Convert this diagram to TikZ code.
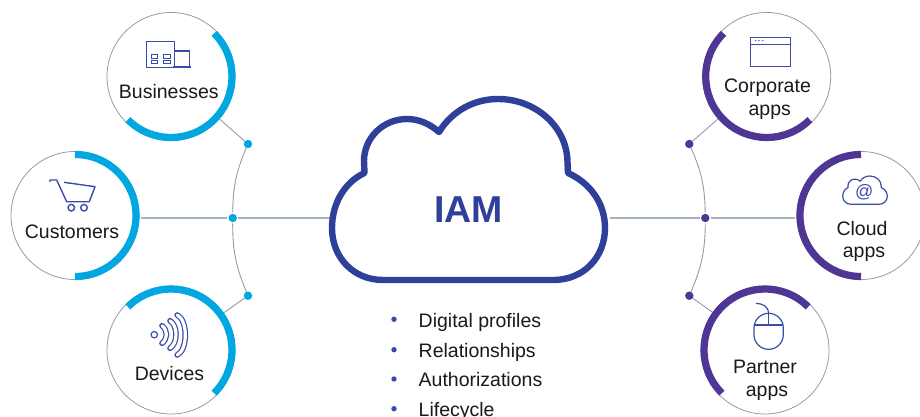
\documentclass[tikz,border=0pt]{standalone}
\usepackage{fontspec}
\setmainfont{Liberation Sans}
\definecolor{cy}{HTML}{00A7E1}
\definecolor{pu}{HTML}{4F3594}
\definecolor{cl}{HTML}{2E4099}
\definecolor{ic}{HTML}{3A4CA8}
\definecolor{gy}{HTML}{8C9FAE}
\definecolor{gl}{HTML}{A3B3BF}
\definecolor{tx}{HTML}{1A1A1A}
\newcommand{\cloudshape}{(383,280) -- (553,280) .. controls (585,280) and (605,256) .. (605,228) .. controls (605,203) and (590,183) .. (568,173) -- (567.5,162) .. controls (567,127) and (536,99) .. (498,99) .. controls (474,99) and (452,111) .. (439,132) .. controls (430,124) and (419,119) .. (407,119) .. controls (383,119) and (364,138) .. (364,161) -- (364.5,173) .. controls (345,182) and (332,203) .. (332,228) .. controls (332,258) and (354,280) .. (383,280) -- cycle}
\tikzset{
  ring/.style={circle,draw=gy,line width=.8pt,minimum size=128pt,inner sep=0pt,outer sep=.4pt},
  dotc/.style={circle,fill=#1,minimum size=8.4pt,inner sep=0pt,outer sep=0pt},
  dotm/.style={dotc=#1,outer sep=1.2pt},
  wire/.style={draw=gy,line width=.9pt},
  hwire/.style={draw=gl,line width=1.2pt},
  band/.style={line width=7.2pt,draw=#1},
  lab/.style={anchor=base,inner sep=0pt,text=tx,font=\fontsize{19.5}{24}\selectfont},
  icon/.style={draw=ic,line width=1.2pt},
  bul/.style={circle,fill=ic,minimum size=5.4pt,inner sep=0pt},
}
\begin{document}
\begin{tikzpicture}[x=1pt,y=-1pt]
\useasboundingbox (0,0) rectangle (920,417);
\clip (0,0) rectangle (920,417);
\fill[white] (0,0) rectangle (920,417);
% rings
\node[ring] (biz) at (171,76.5) {};
\node[ring] (cust) at (75,215.5) {};
\node[ring] (dev) at (171,350) {};
\node[ring] (corp) at (766.7,76.5) {};
\node[ring] (cloudapp) at (861,215.5) {};
\node[ring] (part) at (765,350) {};
% dots
\node[dotc=cy] (d1) at (248,144) {};
\node[dotm=cy] (d2) at (232.7,218) {};
\node[dotc=cy] (d3) at (248,295.7) {};
\node[dotc=pu] (e1) at (689.3,144) {};
\node[dotm=pu] (e2) at (705.3,218) {};
\node[dotc=pu] (e3) at (689.3,295.7) {};
\coordinate (cloudL) at (330,218);
\coordinate (cloudR) at (610,218);
\coordinate (custE) at (141,218);
\coordinate (cappW) at (795,218);
% connectors
\draw[wire] (biz) -- (d1);
\draw[wire] (dev) -- (d3);
\draw[wire] (corp) -- (e1);
\draw[wire] (part) -- (e3);
\draw[wire] (d1) to[bend right=11.4] (d2);
\draw[wire] (d2) to[bend right=11.4] (d3);
\draw[wire] (e1) to[bend left=11.4] (e2);
\draw[wire] (e2) to[bend left=11.4] (e3);
\draw[hwire] (custE) -- (d2);
\draw[hwire] (d2) -- (cloudL);
\draw[hwire] (cloudR) -- (e2);
\draw[hwire] (e2) -- (cappW);
% bands
\draw[band=cy] ([shift={(-45:61)}]biz.center) arc[start angle=-45,end angle=135,radius=61];
\draw[band=cy] ([shift={(-90:61)}]cust.center) arc[start angle=-90,end angle=90,radius=61];
\draw[band=cy] ([shift={(-135:61)}]dev.center) arc[start angle=-135,end angle=45,radius=61];
\draw[band=pu] ([shift={(-135:61)}]corp.center) arc[start angle=-135,end angle=-315,radius=61];
\draw[band=pu] ([shift={(-90:61)}]cloudapp.center) arc[start angle=-90,end angle=-270,radius=61];
\draw[band=pu] ([shift={(-45:61)}]part.center) arc[start angle=-45,end angle=-225,radius=61];
% main cloud
\draw[cl,line width=6.4pt,line join=round,fill=white] \cloudshape;
\node[anchor=base,inner sep=0pt,text=cl,font=\fontsize{37.5}{40}\selectfont\bfseries] (iam) at (468.7,222) {IAM};
% labels
\node[lab] (t1) at (168.8,98.3) {Businesses};
\node[lab] (t2) at (72,238) {Customers};
\node[lab] (t3) at (169.5,380.5) {Devices};
\node[lab] (t4) at (767.5,92.5) {Corporate};
\node[lab] (t5) at (769.7,115.5) {apps};
\node[lab] (t6) at (862,235.3) {Cloud};
\node[lab] (t7) at (864,257.5) {apps};
\node[lab] (t8) at (765,373.5) {Partner};
\node[lab] (t9) at (767,396.5) {apps};
% list
\node[lab,anchor=base west] (l1) at (418.5,327.3) {Digital profiles};
\node[lab,anchor=base west] (l2) at (418.5,357.3) {Relationships};
\node[lab,anchor=base west] (l3) at (418.5,386) {Authorizations};
\node[lab,anchor=base west] (l4) at (418.5,416) {Lifecycle};
\node[bul] (b1) at (394,319.3) {};
\node[bul] (b2) at (394,349.7) {};
\node[bul] (b3) at (394,379) {};
\node[bul] (b4) at (394,408.7) {};
% building icon
\draw[icon] (146.7,41.7) rectangle (174.3,67.3);
\draw[icon] (174.3,51) -- (189.3,51) -- (189.3,66.6);
\draw[icon] (173,67) -- (191.3,67);
\draw[icon,line width=1pt] (151,55) rectangle (157.7,58.3);
\draw[icon,line width=1pt] (151,60.3) rectangle (157.7,63.5);
\draw[icon,line width=1pt] (163.3,55) rectangle (170.7,58.3);
\draw[icon,line width=1pt] (163.3,60.3) rectangle (170.7,63.5);
% cart icon
\draw[icon,line width=1.4pt,line join=round] (50,182) -- (50,180) -- (56.7,180) -- (66.7,201.7) -- (89.3,201.7) -- (95,186.7) -- (64,182.3);
\draw[icon,line width=1.4pt] (71.3,207.7) circle[radius=3.3];
\draw[icon,line width=1.4pt] (84,207.7) circle[radius=3.3];
% waves icon
\draw[icon] (154.3,334.7) circle[radius=3.2];
\foreach \xa/\ya/\yb/\cx in {162/325.7/343.3/168,170/320.7/348.3/178,177.2/315/355/188}{
  \draw[draw=ic,line width=5.6pt,line cap=round] (\xa,\ya) .. controls (\cx,\ya+5) and (\cx,\yb-5) .. (\xa,\yb);
  \draw[draw=white,line width=3.2pt,line cap=round] (\xa,\ya) .. controls (\cx,\ya+5) and (\cx,\yb-5) .. (\xa,\yb);
}
% browser icon
\draw[icon] (750.3,37.3) rectangle (790.3,66.3);
\draw[icon] (750.3,44.3) -- (790.3,44.3);
\fill[ic] (755.7,40.4) circle[radius=.8] (759,40.4) circle[radius=.8] (762.7,40.4) circle[radius=.8];
% small cloud icon
\begin{scope}[shift={(842.7,176)},xscale=.1634,yscale=.1564,shift={(-332,-99)}]
\draw[icon] \cloudshape;
\end{scope}
\node[inner sep=0pt,text=ic,font=\fontsize{18}{18}\selectfont] (at) at (864.3,192.5) {@};
% mouse icon
\draw[icon,rounded corners=14.6pt] (754,313.3) rectangle (783.3,349.3);
\draw[icon] (754,325) -- (783.3,325);
\draw[icon] (768.7,313.3) -- (768.7,325);
\draw[icon] (756,303.3) .. controls (763,303.5) and (768.7,307) .. (768.7,313.3);
\end{tikzpicture}
\end{document}
